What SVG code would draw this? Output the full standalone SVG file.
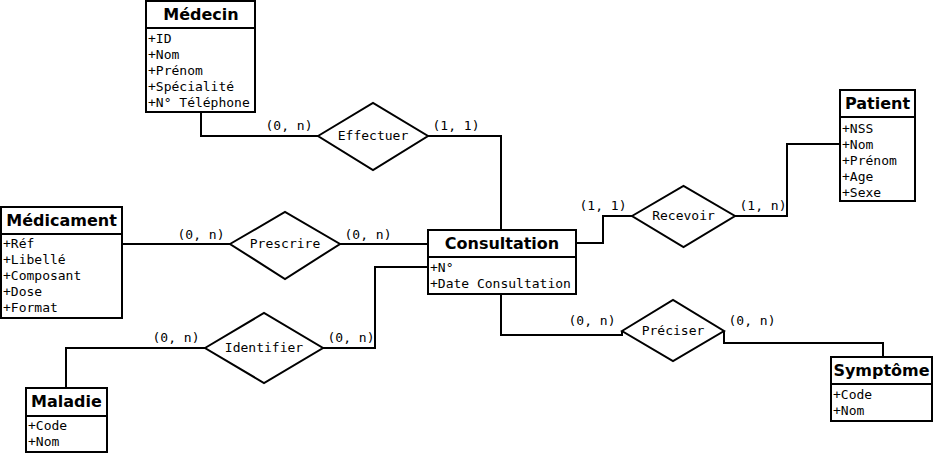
<svg xmlns="http://www.w3.org/2000/svg" width="940" height="454" viewBox="0 0 940 454">
<style>
.box{fill:#fff;stroke:#000;stroke-width:2}
.ln{fill:none;stroke:#000;stroke-width:2}
.t{font-family:"DejaVu Sans",sans-serif;font-weight:bold;font-size:16px;text-anchor:middle}
.a{font-family:"DejaVu Sans Mono",monospace;font-size:13px}
.l{font-family:"DejaVu Sans Mono",monospace;font-size:13px;text-anchor:middle}
</style>
<rect width="940" height="454" fill="#fff"/>
<g id="connectors">
<polyline class="ln" points="201,112 201,136 318,136"/>
<polyline class="ln" points="428,136 501,136 501,230"/>
<polyline class="ln" points="122,244 230,244"/>
<polyline class="ln" points="340,244 428,244"/>
<polyline class="ln" points="576,243 603,243 603,216 632,216"/>
<polyline class="ln" points="735,216 787,216 787,144 840,144"/>
<polyline class="ln" points="428,267 375,267 375,348 323,348"/>
<polyline class="ln" points="205,348 66,348 66,388"/>
<polyline class="ln" points="501,294 501,335 622,335 622,331"/>
<polyline class="ln" points="724,331 724,343 883,343 883,357"/>
<text class="l" x="289" y="130">(0, n)</text>
<text class="l" x="456" y="130">(1, 1)</text>
<text class="l" x="201" y="239">(0, n)</text>
<text class="l" x="368" y="239">(0, n)</text>
<text class="l" x="603" y="210">(1, 1)</text>
<text class="l" x="763" y="210">(1, n)</text>
<text class="l" x="176" y="342">(0, n)</text>
<text class="l" x="351" y="342">(0, n)</text>
<text class="l" x="592" y="325">(0, n)</text>
<text class="l" x="752" y="325">(0, n)</text>
</g>
<g id="medecin">
<rect class="box" x="146" y="1" width="109" height="111"/>
<line class="ln" x1="146" y1="28" x2="255" y2="28"/>
<text class="t" x="201" y="20">Médecin</text>
<text class="a" x="148" y="43">+ID</text>
<text class="a" x="148" y="59">+Nom</text>
<text class="a" x="148" y="75">+Prénom</text>
<text class="a" x="148" y="91">+Spécialité</text>
<text class="a" x="148" y="107">+N° Téléphone</text>
</g>
<g id="patient">
<rect class="box" x="840" y="90" width="75" height="111"/>
<line class="ln" x1="840" y1="117" x2="915" y2="117"/>
<text class="t" x="877.5" y="109">Patient</text>
<text class="a" x="842" y="133">+NSS</text>
<text class="a" x="842" y="149">+Nom</text>
<text class="a" x="842" y="165">+Prénom</text>
<text class="a" x="842" y="181">+Age</text>
<text class="a" x="842" y="197">+Sexe</text>
</g>
<g id="medicament">
<rect class="box" x="1" y="207" width="121" height="111"/>
<line class="ln" x1="1" y1="234" x2="122" y2="234"/>
<text class="t" x="61.5" y="226">Médicament</text>
<text class="a" x="3" y="248">+Réf</text>
<text class="a" x="3" y="264">+Libellé</text>
<text class="a" x="3" y="280">+Composant</text>
<text class="a" x="3" y="296">+Dose</text>
<text class="a" x="3" y="312">+Format</text>
</g>
<g id="consultation">
<rect class="box" x="428" y="230" width="148" height="64"/>
<line class="ln" x1="428" y1="257" x2="576" y2="257"/>
<text class="t" x="502" y="249">Consultation</text>
<text class="a" x="430" y="272">+N°</text>
<text class="a" x="430" y="288">+Date Consultation</text>
</g>
<g id="maladie">
<rect class="box" x="26" y="388" width="81" height="64"/>
<line class="ln" x1="26" y1="416" x2="107" y2="416"/>
<text class="t" x="66.5" y="407">Maladie</text>
<text class="a" x="28" y="430">+Code</text>
<text class="a" x="28" y="446">+Nom</text>
</g>
<g id="symptome">
<rect class="box" x="831" y="357" width="101" height="64"/>
<line class="ln" x1="831" y1="384" x2="932" y2="384"/>
<text class="t" x="881.5" y="376">Symptôme</text>
<text class="a" x="833" y="399">+Code</text>
<text class="a" x="833" y="415">+Nom</text>
</g>
<g id="effectuer">
<polygon class="box" points="318,136 373,103 428,136 373,170"/>
<text class="l" x="373" y="140">Effectuer</text>
</g>
<g id="prescrire">
<polygon class="box" points="230,244 285,212 340,244 285,279"/>
<text class="l" x="285" y="248">Prescrire</text>
</g>
<g id="recevoir">
<polygon class="box" points="632,216 683.5,186 735,216 683.5,247"/>
<text class="l" x="683.5" y="220">Recevoir</text>
</g>
<g id="identifier">
<polygon class="box" points="205,348 264,313 323,348 264,383"/>
<text class="l" x="264" y="352">Identifier</text>
</g>
<g id="preciser">
<polygon class="box" points="622,331 673,300 724,331 673,361"/>
<text class="l" x="673" y="335">Préciser</text>
</g>
</svg>
